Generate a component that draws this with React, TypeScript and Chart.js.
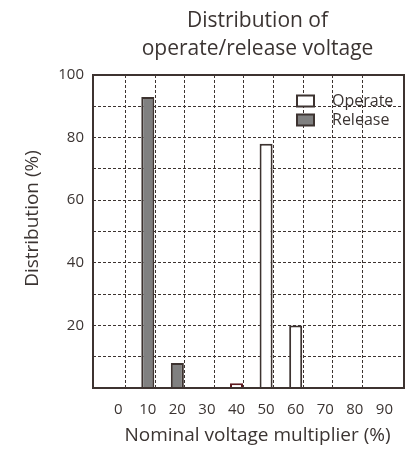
import React, { useEffect, useRef } from 'react';
import { Chart, registerables } from 'chart.js';

Chart.register(...registerables);

const TITLE_LINES = ['Distribution of', 'operate/release voltage'];
const X_TITLE = 'Nominal voltage multiplier (%)';
const Y_TITLE = 'Distribution (%)';
const X_TICKS = [0, 10, 20, 30, 40, 50, 60, 70, 80, 90];
const X_GRID = [5, 15, 25, 35, 45, 55, 65, 75, 85];
const Y_TICKS = [20, 40, 60, 80, 100];
const SERIES_NAMES = ['Operate', 'Release'];
const OPERATE_X = [40, 50, 60];
const OPERATE_Y = [1.5, 78, 20];
const RELEASE_X = [10, 20];
const RELEASE_Y = [93, 8];

const TEXT = '#3b3432';
const DARK = '#3d3330';
const FONT = "'Open Sans', 'Noto Sans', sans-serif";

const textPlugin = {
  id: 'customText',
  afterDraw(chart: any) {
    const { ctx, chartArea } = chart;
    const { left, right, top, bottom } = chartArea;
    ctx.save();
    // frame
    ctx.strokeStyle = DARK;
    ctx.lineWidth = 2;
    ctx.setLineDash([]);
    ctx.strokeRect(left, top, right - left, bottom - top);
    ctx.fillStyle = TEXT;
    // title
    const cx = (left + right) / 2 + 9;
    ctx.font = `400 21px ${FONT}`;
    ctx.textAlign = 'center';
    ctx.textBaseline = 'alphabetic';
    ctx.fillText(TITLE_LINES[0], cx, top - 48);
    ctx.fillText(TITLE_LINES[1], cx, top - 20);
    // x title
    ctx.font = `400 19px ${FONT}`;
    ctx.fillText(X_TITLE, cx, bottom + 53);
    // y title
    ctx.textBaseline = 'middle';
    ctx.save();
    ctx.translate(left - 60, (top + bottom) / 2 - 13);
    ctx.rotate(-Math.PI / 2);
    ctx.fillText(Y_TITLE, 0, 0);
    ctx.restore();
    // legend
    ctx.font = `400 16px ${FONT}`;
    ctx.textAlign = 'left';
    const ds = chart.data.datasets;
    ds.forEach((d: any, i: number) => {
      const cy = top + 26 + i * 19;
      const bx = right - 107;
      ctx.fillStyle = d.backgroundColor;
      ctx.fillRect(bx, cy - 5.5, 17, 11);
      ctx.strokeStyle = DARK;
      ctx.lineWidth = 2;
      ctx.strokeRect(bx, cy - 5.5, 17, 11);
      ctx.fillStyle = TEXT;
      ctx.fillText(d.label, right - 72, cy);
    });
    ctx.restore();
  },
};

export default function App() {
  const ref = useRef<HTMLCanvasElement>(null);
  useEffect(() => {
    if (!ref.current) return;
    const chart = new Chart(ref.current, {
      type: 'bar',
      data: {
        datasets: [
          {
            label: SERIES_NAMES[0],
            data: OPERATE_X.map((x, i) => ({ x, y: OPERATE_Y[i] })),
            backgroundColor: '#ffffff',
            borderColor: ['#5c1a1e', DARK, DARK],
            borderWidth: 2,
            borderSkipped: 'start',
            grouped: false,
            barPercentage: 0.88,
            categoryPercentage: 1,
          } as any,
          {
            label: SERIES_NAMES[1],
            data: RELEASE_X.map((x, i) => ({ x, y: RELEASE_Y[i] })),
            backgroundColor: '#808080',
            borderColor: DARK,
            borderWidth: 2,
            borderSkipped: 'start',
            grouped: false,
            barPercentage: 0.88,
            categoryPercentage: 1,
          } as any,
        ],
      },
      options: {
        animation: false,
        responsive: true,
        maintainAspectRatio: false,
        layout: { padding: { top: 67, right: 4, left: 0, bottom: 0 } },
        plugins: {
          legend: { display: false },
          title: { display: false },
          tooltip: { enabled: false },
        },
        scales: {
          x: {
            type: 'linear',
            min: -5.75,
            max: 93.85,
            afterBuildTicks: (s: any) => {
              s.ticks = [...X_TICKS, ...X_GRID].sort((a, b) => a - b).map((v) => ({ value: v }));
            },
            afterFit: (s: any) => {
              s.height = 66;
            },
            ticks: {
              autoSkip: false,
              maxRotation: 0,
              padding: 13,
              color: TEXT,
              font: { family: FONT, size: 15 },
              callback: (v: any) => (X_TICKS.includes(Number(v)) ? String(v) : ''),
            },
            grid: {
              drawTicks: false,
              lineWidth: 1,
              color: (c: any) => (c.tick && X_GRID.includes(c.tick.value) ? DARK : 'rgba(0,0,0,0)'),
            },
            border: { display: false, dash: [3, 2] },
          },
          y: {
            min: 0,
            max: 100,
            afterFit: (s: any) => {
              s.width = 85;
            },
            ticks: {
              stepSize: 10,
              autoSkip: false,
              padding: 9,
              color: TEXT,
              font: { family: FONT, size: 15 },
              callback: (v: any) => (Y_TICKS.includes(Number(v)) ? String(v) : ''),
            },
            grid: {
              drawTicks: false,
              lineWidth: 1,
              color: (c: any) =>
                c.tick && c.tick.value > 0 && c.tick.value < 100 ? DARK : 'rgba(0,0,0,0)',
            },
            border: { display: false, dash: [3, 2] },
          },
        },
      } as any,
      plugins: [textPlugin],
    });
    return () => chart.destroy();
  }, []);
  return (
    <div style={{ width: 400, height: 446, marginBottom: -8, position: 'relative' }}>
      <canvas ref={ref} />
    </div>
  );
}
